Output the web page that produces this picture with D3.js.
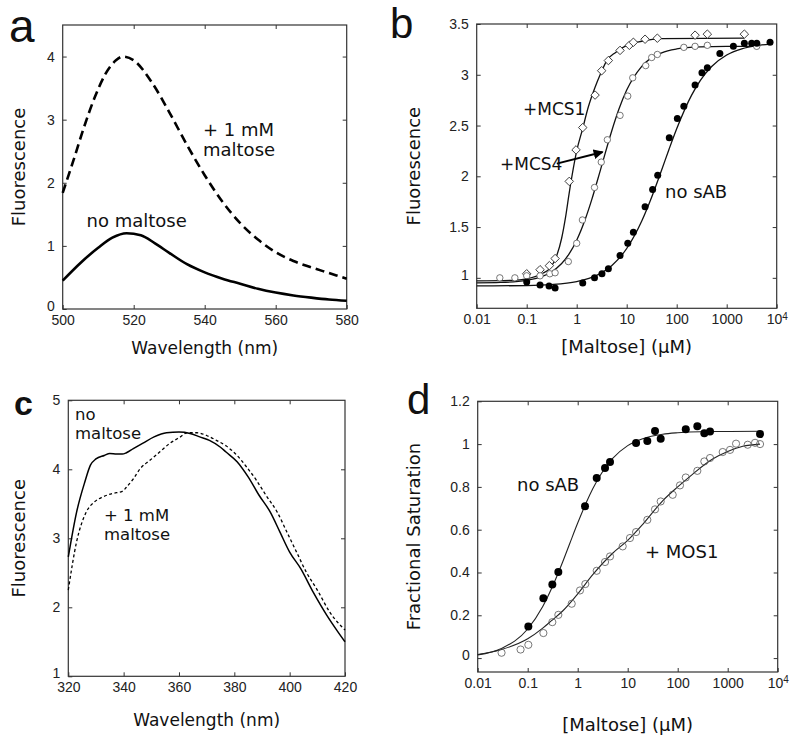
<!DOCTYPE html>
<html><head><meta charset="utf-8">
<script src="https://cdn.jsdelivr.net/npm/d3@7"></script>
<style>body{margin:0;background:#fff} svg{display:block}</style>
</head><body>
<svg id="chart" width="800" height="744"></svg>
<script>
// ---------- Panel a data ----------
const aNoMaltoseNm = [500,505,510,514,518,522,526,530,535,540,545,550,555,560,565,570,575,580];
const aNoMaltoseF  = [0.45,0.73,0.97,1.13,1.2,1.17,1.04,0.89,0.71,0.58,0.48,0.40,0.32,0.26,0.215,0.18,0.15,0.13];
const aMaltoseNm = [500,503,506,509,512,515,517,520,525,530,535,540,545,550,555,560,565,570,575,580];
const aMaltoseF  = [1.84,2.35,2.88,3.35,3.72,3.94,4.0,3.94,3.6,3.12,2.6,2.12,1.7,1.36,1.1,0.9,0.76,0.66,0.57,0.48];
const aXTicks = [500,520,540,560,580];
const aYTicks = [0,1,2,3,4];

// ---------- Panel b data ----------
const bMCS1Conc = [0.1,0.185,0.284,0.37,0.71,0.97,1.32,2.33,3.16,4.3,7.36,11.3,13.6,23.3,41,233,410,2255];
const bMCS1Fl   = [1.04,1.08,1.12,1.19,1.95,2.26,2.48,2.80,3.04,3.14,3.24,3.29,3.32,3.35,3.36,3.39,3.40,3.40];
const bMCS4Conc = [0.029,0.058,0.1,0.185,0.29,0.37,0.68,1.0,1.3,2.27,3.1,4.1,7.36,10.5,13.2,24,31.6,41,139,233,410,3980];
const bMCS4Fl   = [1.0,1.0,1.02,1.02,1.04,1.05,1.16,1.34,1.57,1.89,2.14,2.36,2.60,2.79,2.97,3.09,3.17,3.20,3.27,3.28,3.29,3.28];
const bNoSabConc = [0.1,0.185,0.28,0.37,1.32,2.27,3.2,4.3,7.36,10.5,13.6,23.3,33,41.7,71,103,139,233,320,410,730,1360,2255,3160,4000,7356];
const bNoSabFl   = [0.96,0.93,0.92,0.90,0.95,1.0,1.04,1.09,1.22,1.34,1.45,1.70,1.87,2.01,2.38,2.57,2.69,2.90,3.02,3.07,3.21,3.28,3.31,3.31,3.31,3.32];
// fitted curves
const bMCS1FitConc = [0.01,0.05,0.1,0.2,0.3,0.4,0.5,0.6,0.7,0.85,1.0,1.3,1.7,2.3,3.0,4.0,6.0,10,20,50,2255];
const bMCS1Fit     = [0.97,0.975,0.99,1.04,1.10,1.22,1.39,1.60,1.82,2.07,2.25,2.46,2.68,2.87,3.01,3.14,3.22,3.29,3.33,3.355,3.36];
const bMCS4FitConc = [0.01,0.03,0.1,0.2,0.3,0.5,0.7,1,1.5,2,3,5,7,10,20,50,100,300,1000,3980];
const bMCS4Fit     = [0.951,0.955,0.975,1.012,1.053,1.141,1.234,1.371,1.584,1.770,2.066,2.444,2.662,2.849,3.083,3.216,3.254,3.274,3.279,3.28];
const bNoSabFitConc = [0.01,0.1,0.3,1,2,3,5,10,20,30,50,70,100,200,300,500,1000,2000,4000,7356];
const bNoSabFit     = [0.92,0.924,0.933,0.963,1.004,1.044,1.12,1.289,1.56,1.767,2.063,2.264,2.468,2.802,2.948,3.082,3.195,3.256,3.288,3.302];
const bYTicks = [1,1.5,2,2.5,3,3.5];
const logTicks = [0.01,0.1,1,10,100,1000,10000];
const logTickLabels = ["0.01","0.1","1","10","100","1000","10^4"];

// ---------- Panel c data ----------
const cNoMaltoseNm = [320,323,326,328,330,333,335,337.5,339.5,341,343.5,347,351,355.5,360,364,367.5,371,375,377,381,385,389,393,396.5,400,404,408.5,413.5,417,420];
const cNoMaltoseF  = [2.73,3.38,3.82,4.06,4.15,4.20,4.23,4.22,4.22,4.24,4.30,4.38,4.47,4.53,4.54,4.52,4.47,4.42,4.32,4.25,4.11,3.89,3.62,3.38,3.09,2.80,2.56,2.22,1.88,1.67,1.50];
const cMaltoseNm = [320,323,326.5,329.5,332.5,336,339.5,341,343.5,346,349.5,353,356.5,360.5,363,366.5,370,373.5,377,381,384.5,388,391.5,395.5,399,402.5,406,410,414.5,420];
const cMaltoseF  = [2.25,2.95,3.38,3.53,3.60,3.65,3.68,3.74,3.86,4.01,4.13,4.25,4.37,4.47,4.53,4.53,4.49,4.42,4.34,4.20,4.03,3.84,3.62,3.38,3.09,2.80,2.51,2.25,1.93,1.67];
const cXTicks = [320,340,360,380,400,420];
const cYTicks = [1,2,3,4,5];

// ---------- Panel d data ----------
const dNoSabConc = [0.103,0.206,0.311,0.41,1.40,2.4,3.52,4.43,14.7,24.7,35.2,45.7,145,247,341,443,4436];
const dNoSabSat  = [0.148,0.280,0.344,0.402,0.709,0.841,0.888,0.916,1.005,1.014,1.061,1.025,1.069,1.083,1.051,1.059,1.047];
const dMos1Conc = [0.030,0.072,0.103,0.206,0.311,0.41,0.759,1.11,1.42,2.4,3.52,4.43,7.94,11.1,14.7,24.7,35.2,45.7,79.4,111,145,247,341,443,794,1114,1469,2512,3524,4436];
const dMos1Sat  = [0.025,0.040,0.062,0.117,0.168,0.202,0.254,0.316,0.346,0.408,0.449,0.475,0.522,0.561,0.589,0.646,0.695,0.732,0.763,0.807,0.844,0.875,0.919,0.935,0.963,0.973,1.002,0.997,1.006,1.0];
const dNoSabFitConc = [0.01,0.03,0.1,0.2,0.3,0.5,0.7,1,1.5,2,3,5,10,20,50,100,300,1000,4436];
const dNoSabFit     = [0.015,0.045,0.136,0.241,0.325,0.449,0.538,0.631,0.729,0.791,0.864,0.933,0.993,1.025,1.046,1.053,1.058,1.059,1.06];
const dMos1FitConc = [0.01,0.03,0.1,0.2,0.3,0.5,1,2,5,10,20,50,100,200,500,1000,2000,4436];
const dMos1Fit     = [0.017,0.04,0.09,0.14,0.175,0.22,0.30,0.39,0.49,0.55,0.625,0.735,0.80,0.86,0.93,0.965,0.99,1.0];
const dYTicks = [0,0.2,0.4,0.6,0.8,1,1.2];

// ---------- drawing ----------
const svg = d3.select("#chart");
const LBL = "'DejaVu Sans', Verdana, sans-serif";
const TICK = "'Liberation Sans', Arial, sans-serif";
const zip = (xs, ys) => xs.map((x, i) => [x, ys[i]]);

function panel(o) {
  const g = svg.append("g").attr("transform", `translate(${o.left},${o.top})`);
  const x = o.x.range([0, o.w]);
  const y = o.y.range([o.h, 0]);
  const inner = (arr, dom) => arr.filter(v => v > dom[0] + 1e-9 && v < dom[1] - 1e-9);
  const xd = x.domain(), yd = y.domain();
  const style = sel => {
    sel.select(".domain").remove();
    sel.selectAll("line").attr("stroke", "#333").attr("stroke-width", 1);
    sel.selectAll("text").attr("font-family", TICK).attr("font-size", 14).attr("fill", "#222");
  };
  const bottom = g.append("g").attr("transform", `translate(0,${o.h})`)
    .call(d3.axisBottom(x).tickValues(o.xTicks).tickSize(-4).tickPadding(6)
      .tickFormat((d, i) => o.xLabels ? o.xLabels[i] : String(d)));
  style(bottom);
  g.append("g").call(d3.axisTop(x).tickValues(inner(o.xTicks, xd)).tickSize(-4).tickFormat("")).call(style);
  const left = g.append("g").call(d3.axisLeft(y).tickValues(o.yTicks).tickSize(-4).tickPadding(8).tickFormat(d => String(d)));
  style(left);
  // lowest y label sits just above the corner, as in the reference
  left.selectAll(".tick text").filter(d => d === o.yTicks[0]).attr("dy", "0.1em");
  g.append("g").attr("transform", `translate(${o.w},0)`)
    .call(d3.axisRight(y).tickValues(inner(o.yTicks, yd)).tickSize(-4).tickFormat("")).call(style);
  g.append("rect").attr("width", o.w).attr("height", o.h)
    .attr("fill", "none").attr("stroke", "#333").attr("stroke-width", 1.2);
  // superscript label
  bottom.selectAll(".tick text").each(function () {
    const t = d3.select(this);
    const s = t.text();
    if (s.includes("^")) {
      const [b, e] = s.split("^");
      t.text(null);
      t.append("tspan").text(b);
      t.append("tspan").attr("dy", "-0.45em").attr("font-size", 10).text(e);
    }
  });
  // axis titles
  svg.append("text").attr("x", o.left + o.w / 2).attr("y", o.xTitleY)
    .attr("text-anchor", "middle").attr("font-family", LBL).attr("font-size", o.xTitleSize || 18)
    .attr("fill", "#111").text(o.xTitle);
  svg.append("text").attr("transform", `translate(${o.yTitleX},${o.top + o.h / 2}) rotate(-90)`)
    .attr("text-anchor", "middle").attr("font-family", LBL).attr("font-size", 18)
    .attr("fill", "#111").text(o.yTitle);
  return { g, x, y };
}

// one text element, possibly with several lines
function text(x, y, lines, size, lineH) {
  const t = svg.append("text").attr("x", x).attr("y", y).attr("font-family", LBL)
    .attr("font-size", size).attr("fill", "#111");
  [].concat(lines).forEach((s, i) => {
    t.append("tspan").attr("x", x).attr("dy", i === 0 ? 0 : lineH).text(s);
  });
  return t;
}

function letter(x, y, s, size, bold) {
  svg.append("text").attr("x", x).attr("y", y).attr("font-family", TICK)
    .attr("font-weight", bold ? "bold" : "normal").attr("font-size", size).attr("fill", "#111").text(s);
}

// ---- Panel a ----
{
  const p = panel({ left: 62.7, top: 25, w: 284, h: 284,
    x: d3.scaleLinear().domain([500, 580]), y: d3.scaleLinear().domain([0, 4.5]),
    xTicks: aXTicks, yTicks: aYTicks, xTitle: "Wavelength (nm)", xTitleY: 354, xTitleSize: 17,
    yTitle: "Fluorescence", yTitleX: 25 });
  const line = d3.line().x(d => p.x(d[0])).y(d => p.y(d[1])).curve(d3.curveMonotoneX);
  p.g.append("path").attr("d", line(zip(aNoMaltoseNm, aNoMaltoseF)))
    .attr("fill", "none").attr("stroke", "#000").attr("stroke-width", 2.6);
  p.g.append("path").attr("d", line(zip(aMaltoseNm, aMaltoseF)))
    .attr("fill", "none").attr("stroke", "#000").attr("stroke-width", 2.6).attr("stroke-dasharray", "9,5");
  text(203, 136, ["+ 1 mM", "maltose"], 18, 20);
  text(86.5, 227, "no maltose", 18);
  letter(9, 42, "a", 46);
}

// ---- Panel b ----
{
  const p = panel({ left: 476.7, top: 24, w: 300, h: 284.3,
    x: d3.scaleLog().domain([0.01, 10000]), y: d3.scaleLinear().domain([0.7, 3.5]),
    xTicks: logTicks, xLabels: logTickLabels, yTicks: bYTicks, xTitle: "[Maltose] (\u00B5M)", xTitleY: 353,
    yTitle: "Fluorescence", yTitleX: 420 });
  const line = d3.line().x(d => p.x(d[0])).y(d => p.y(d[1])).curve(d3.curveMonotoneX);
  [[bMCS1FitConc, bMCS1Fit], [bMCS4FitConc, bMCS4Fit], [bNoSabFitConc, bNoSabFit]].forEach(([xs, ys]) => {
    p.g.append("path").attr("d", line(zip(xs, ys))).attr("fill", "none").attr("stroke", "#111").attr("stroke-width", 1.3);
  });
  const sq = d3.symbol().type(d3.symbolSquare).size(36)();
  p.g.selectAll(".dia").data(zip(bMCS1Conc, bMCS1Fl)).join("path")
    .attr("d", sq).attr("transform", d => `translate(${p.x(d[0])},${p.y(d[1])}) rotate(45)`)
    .attr("fill", "#fff").attr("stroke", "#333").attr("stroke-width", 0.9);
  p.g.selectAll(".oc").data(zip(bMCS4Conc, bMCS4Fl)).join("circle")
    .attr("cx", d => p.x(d[0])).attr("cy", d => p.y(d[1])).attr("r", 3.2)
    .attr("fill", "#fff").attr("stroke", "#555").attr("stroke-width", 0.8);
  p.g.selectAll(".fc").data(zip(bNoSabConc, bNoSabFl)).join("circle")
    .attr("cx", d => p.x(d[0])).attr("cy", d => p.y(d[1])).attr("r", 3.5).attr("fill", "#000");
  text(523, 115, "+MCS1", 17);
  text(500, 170, "+MCS4", 17);
  text(665, 198, "no sAB", 18);
  // arrow
  const defs = svg.append("defs");
  defs.append("marker").attr("id", "arr").attr("viewBox", "0 0 10 10").attr("refX", 9).attr("refY", 5)
    .attr("markerWidth", 5).attr("markerHeight", 5).attr("orient", "auto")
    .append("path").attr("d", "M0,0 L10,5 L0,10 z").attr("fill", "#000");
  p.g.append("line").attr("x1", p.x(0.40)).attr("y1", p.y(2.125)).attr("x2", p.x(3.3)).attr("y2", p.y(2.24))
    .attr("stroke", "#000").attr("stroke-width", 2).attr("marker-end", "url(#arr)");
  letter(390, 38, "b", 42);
}

// ---- Panel c ----
{
  const p = panel({ left: 68.3, top: 400.3, w: 276.7, h: 276,
    x: d3.scaleLinear().domain([320, 420]), y: d3.scaleLinear().domain([1, 5]),
    xTicks: cXTicks, yTicks: cYTicks, xTitle: "Wavelength (nm)", xTitleY: 726, xTitleSize: 17,
    yTitle: "Fluorescence", yTitleX: 25 });
  const line = d3.line().x(d => p.x(d[0])).y(d => p.y(d[1])).curve(d3.curveMonotoneX);
  p.g.append("path").attr("d", line(zip(cNoMaltoseNm, cNoMaltoseF)))
    .attr("fill", "none").attr("stroke", "#000").attr("stroke-width", 1.5);
  p.g.append("path").attr("d", line(zip(cMaltoseNm, cMaltoseF)))
    .attr("fill", "none").attr("stroke", "#000").attr("stroke-width", 1.3).attr("stroke-dasharray", "3,2.5");
  text(75, 419.5, ["no", "maltose"], 16.5, 19);
  text(104, 520.5, ["+ 1 mM", "maltose"], 16.5, 19);
  letter(14, 415, "c", 34, true);
}

// ---- Panel d ----
{
  const p = panel({ left: 477.7, top: 401.3, w: 300, h: 270.7,
    x: d3.scaleLog().domain([0.01, 10000]), y: d3.scaleLinear().domain([-0.065, 1.2]),
    xTicks: logTicks, xLabels: logTickLabels, yTicks: dYTicks, xTitle: "[Maltose] (\u00B5M)", xTitleY: 731,
    yTitle: "Fractional Saturation", yTitleX: 420 });
  const line = d3.line().x(d => p.x(d[0])).y(d => p.y(d[1])).curve(d3.curveMonotoneX);
  [[dNoSabFitConc, dNoSabFit], [dMos1FitConc, dMos1Fit]].forEach(([xs, ys]) => {
    p.g.append("path").attr("d", line(zip(xs, ys))).attr("fill", "none").attr("stroke", "#222").attr("stroke-width", 1.1);
  });
  p.g.selectAll(".oc").data(zip(dMos1Conc, dMos1Sat)).join("circle")
    .attr("cx", d => p.x(d[0])).attr("cy", d => p.y(d[1])).attr("r", 3.6)
    .attr("fill", "none").attr("stroke", "#555").attr("stroke-width", 0.8);
  p.g.selectAll(".fc").data(zip(dNoSabConc, dNoSabSat)).join("circle")
    .attr("cx", d => p.x(d[0])).attr("cy", d => p.y(d[1])).attr("r", 4).attr("fill", "#000");
  text(517, 491, "no sAB", 18);
  text(645, 558, "+ MOS1", 18);
  letter(407, 414, "d", 42);
}
</script>
</body></html>
